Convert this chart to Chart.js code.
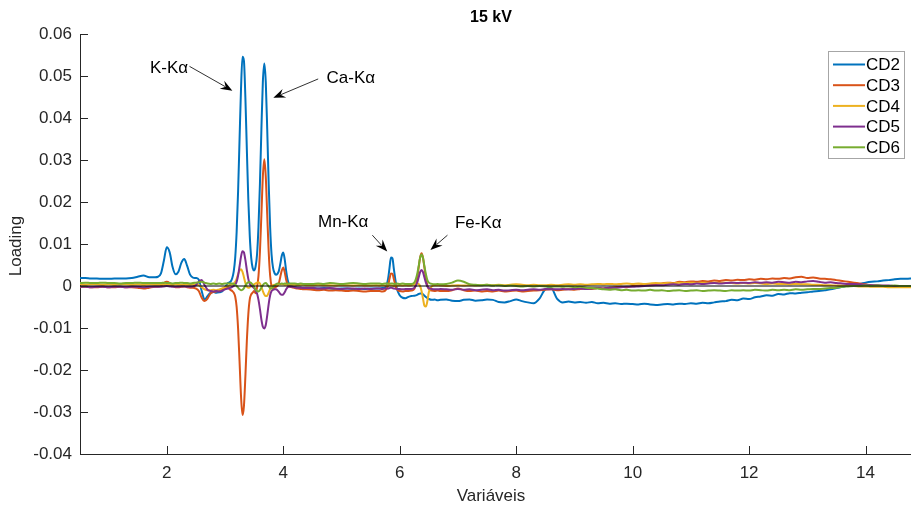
<!DOCTYPE html>
<html>
<head>
<meta charset="utf-8">
<title>15 kV</title>
<script src="https://cdn.jsdelivr.net/npm/chart.js@4.4.1/dist/chart.umd.min.js"></script>
<style>
  html, body { margin: 0; padding: 0; background: #ffffff; }
  #wrap { width: 911px; height: 511px; }
</style>
</head>
<body>
<div id="wrap"><canvas id="loadingChart" width="911" height="511"></canvas></div>
<script>
// Energy channels (keV) shared by all loading vectors
const energy = [
  0.5, 0.6, 0.7, 0.8, 0.9, 1.0, 1.1, 1.2, 1.3, 1.4, 1.5, 1.6, 1.7, 1.8,
  1.85, 1.9, 1.95, 2.0, 2.05, 2.1, 2.15, 2.2, 2.25, 2.3, 2.35, 2.4, 2.45, 2.5, 2.55, 2.6, 2.65, 2.7, 2.75, 2.8, 2.85, 2.9, 2.95, 3.0, 3.05, 3.1,
  3.125, 3.15, 3.175, 3.2, 3.225, 3.25, 3.275, 3.3, 3.325, 3.35, 3.375, 3.4, 3.425, 3.45, 3.475, 3.5, 3.525, 3.55, 3.575, 3.6,
  3.625, 3.65, 3.675, 3.7, 3.725, 3.75, 3.775, 3.8, 3.825, 3.85, 3.875, 3.9, 3.925, 3.95, 3.975, 4.0, 4.025, 4.05, 4.075, 4.1,
  4.15, 4.2, 4.25, 4.3, 4.35, 4.4,
  4.5, 4.6, 4.7, 4.8, 4.9, 5.0, 5.1, 5.2, 5.3, 5.4, 5.5, 5.6,
  5.65, 5.7, 5.75, 5.8, 5.825, 5.85, 5.875, 5.9, 5.95, 6.0, 6.05, 6.1, 6.15, 6.2,
  6.25, 6.3, 6.325, 6.35, 6.375, 6.4, 6.425, 6.45, 6.475, 6.5, 6.55, 6.6, 6.65, 6.7,
  6.8, 6.9, 7.0, 7.1, 7.2, 7.3, 7.4, 7.5, 7.6, 7.7, 7.8, 7.9, 8.0, 8.1, 8.2, 8.3, 8.4, 8.5, 8.6, 8.7,
  8.8, 8.9, 9.0, 9.1, 9.2, 9.3, 9.4, 9.5, 9.6, 9.7, 9.8, 9.9, 10.0, 10.1, 10.2, 10.3, 10.4, 10.5, 10.6, 10.7,
  10.8, 10.9, 11.0, 11.1, 11.2, 11.3, 11.4, 11.5, 11.6, 11.7, 11.8, 11.9, 12.0, 12.1, 12.2, 12.3, 12.4, 12.5, 12.6, 12.7,
  12.8, 12.9, 13.0, 13.1, 13.2, 13.3, 13.4, 13.5, 13.6, 13.7, 13.8, 13.9, 14.0, 14.1, 14.2, 14.3, 14.4, 14.5, 14.6, 14.7, 14.8
];

const cd2 = [
  0.0019, 0.0019, 0.0018, 0.0018, 0.0017, 0.0017, 0.0018, 0.0018, 0.0018, 0.0019, 0.0022, 0.0025, 0.0021, 0.0021,
  0.0022, 0.0030, 0.0060, 0.0092, 0.0080, 0.0045, 0.0028, 0.0034, 0.0055, 0.0064, 0.0048, 0.0027, 0.0020, 0.0019, 0.0015, -0.0012,
  -0.0032, -0.0024, -0.0016, -0.0014, -0.0016, -0.0015, -0.0013, -0.0004, 0.0007, 0.0011,
  0.0019, 0.0035, 0.0067, 0.0129, 0.0226, 0.0350, 0.0470, 0.0546, 0.0536, 0.0448, 0.0325, 0.0207, 0.0120, 0.0067, 0.0043, 0.0037, 0.0046, 0.0075, 0.0141, 0.0244,
  0.0373, 0.0486, 0.0530, 0.0486, 0.0373, 0.0244, 0.0140, 0.0074, 0.0043, 0.0031, 0.0027, 0.0029, 0.0036, 0.0053, 0.0072, 0.0080, 0.0064, 0.0036, 0.0015, 0.0005,
  -0.0001, -0.0003, -0.0004, -0.0004, -0.0005, -0.0005,
  -0.0005, -0.0006, -0.0005, -0.0006, -0.0007, -0.0006, -0.0006, -0.0007, -0.0006, -0.0007, -0.0006, -0.0006,
  -0.0006, -0.0005, -0.0004, 0.0017, 0.0043, 0.0068, 0.0066, 0.0040, -0.0005, -0.0022, -0.0028, -0.0029, -0.0026, -0.0024,
  -0.0023, -0.0021, -0.0019, -0.0018, -0.0018, -0.0020, -0.0023, -0.0026, -0.0029, -0.0031, -0.0033, -0.0032, -0.0034, -0.0033,
  -0.0032, -0.0035, -0.0036, -0.0033, -0.0032, -0.0035, -0.0034, -0.0032, -0.0033, -0.0038, -0.0039, -0.0036, -0.0032, -0.0036, -0.0039, -0.0041, -0.0030, -0.0008, -0.0005, -0.0030,
  -0.0039, -0.0037, -0.0039, -0.0038, -0.0040, -0.0038, -0.0041, -0.0040, -0.0042, -0.0041, -0.0043, -0.0042, -0.0043, -0.0044, -0.0042, -0.0044, -0.0045, -0.0044, -0.0043, -0.0044,
  -0.0042, -0.0043, -0.0041, -0.0042, -0.0040, -0.0041, -0.0039, -0.0037, -0.0036, -0.0033, -0.0034, -0.0030, -0.0031, -0.0027, -0.0025, -0.0022, -0.0023, -0.0019, -0.0020, -0.0017,
  -0.0018, -0.0016, -0.0015, -0.0013, -0.0012, -0.0010, -0.0008, -0.0005, -0.0002, 0.0001, 0.0003, 0.0005, 0.0008, 0.0010, 0.0011, 0.0013, 0.0014, 0.0016, 0.0017, 0.0017, 0.0018
];

const cd3 = [
  -0.0003, -0.0002, -0.0003, -0.0003, -0.0002, -0.0003, -0.0003, -0.0002, -0.0003, -0.0003, -0.0004, -0.0006, -0.0004, -0.0002,
  -0.0002, 0.0000, 0.0007, 0.0010, 0.0007, 0.0000, -0.0003, -0.0003, -0.0002, -0.0001, -0.0003, -0.0004, -0.0004, -0.0006, -0.0012, -0.0028,
  -0.0036, -0.0030, -0.0018, -0.0014, -0.0013, -0.0010, -0.0007, -0.0005, -0.0005, -0.0010,
  -0.0012, -0.0016, -0.0025, -0.0050, -0.0102, -0.0180, -0.0262, -0.0307, -0.0286, -0.0215, -0.0131, -0.0068, -0.0032, -0.0020, -0.0016, -0.0012, -0.0017, -0.0004, 0.0024, 0.0082,
  0.0170, 0.0261, 0.0302, 0.0261, 0.0170, 0.0082, 0.0025, -0.0001, -0.0006, -0.0004, -0.0002, 0.0000, 0.0007, 0.0022, 0.0037, 0.0044, 0.0033, 0.0015, 0.0004, -0.0001,
  -0.0003, -0.0005, -0.0006, -0.0007, -0.0008, -0.0008,
  -0.0009, -0.0010, -0.0009, -0.0011, -0.0010, -0.0011, -0.0012, -0.0011, -0.0012, -0.0013, -0.0012, -0.0012,
  -0.0012, -0.0013, -0.0011, 0.0001, 0.0017, 0.0030, 0.0029, 0.0016, -0.0008, -0.0012, -0.0013, -0.0012, -0.0012, -0.0011,
  -0.0007, 0.0018, 0.0043, 0.0067, 0.0078, 0.0067, 0.0043, 0.0018, 0.0001, -0.0007, -0.0011, -0.0012, -0.0011, -0.0012,
  -0.0012, -0.0010, -0.0006, -0.0010, -0.0012, -0.0011, -0.0013, -0.0012, -0.0013, -0.0011, -0.0013, -0.0012, -0.0011, -0.0013, -0.0012, -0.0011, -0.0010, -0.0009, -0.0008, -0.0010,
  -0.0009, -0.0008, -0.0009, -0.0007, -0.0006, -0.0007, -0.0005, -0.0006, -0.0004, -0.0003, -0.0002, -0.0003, 0.0000, 0.0001, 0.0003, 0.0002, 0.0005, 0.0006, 0.0008, 0.0007,
  0.0010, 0.0009, 0.0011, 0.0010, 0.0012, 0.0011, 0.0013, 0.0012, 0.0014, 0.0013, 0.0015, 0.0014, 0.0016, 0.0015, 0.0017, 0.0016, 0.0018, 0.0017, 0.0019, 0.0018,
  0.0021, 0.0022, 0.0019, 0.0020, 0.0018, 0.0017, 0.0016, 0.0014, 0.0012, 0.0010, 0.0008, 0.0006, 0.0004, 0.0002, 0.0001, 0.0000, -0.0001, -0.0001, -0.0002, -0.0002, -0.0002
];

const cd4 = [
  0.0004, 0.0003, 0.0004, 0.0004, 0.0003, 0.0004, 0.0003, 0.0004, 0.0004, 0.0003, 0.0004, 0.0003, 0.0004, 0.0003,
  0.0003, 0.0004, 0.0003, 0.0004, 0.0003, 0.0003, 0.0004, 0.0003, 0.0003, 0.0004, 0.0003, 0.0003, 0.0004, 0.0003, 0.0002, -0.0003,
  -0.0008, -0.0010, -0.0010, -0.0009, -0.0010, -0.0008, -0.0006, -0.0003, 0.0000, 0.0003,
  0.0004, 0.0006, 0.0010, 0.0017, 0.0028, 0.0037, 0.0040, 0.0034, 0.0021, 0.0007, -0.0002, -0.0004, -0.0003, 0.0000, 0.0002, 0.0004, 0.0006, 0.0008, 0.0009, 0.0006,
  -0.0002, -0.0012, -0.0020, -0.0024, -0.0023, -0.0016, -0.0007, -0.0001, 0.0002, 0.0003, 0.0003, 0.0003, 0.0004, 0.0004, 0.0004, 0.0004, 0.0003, 0.0003, 0.0003, 0.0003,
  0.0003, 0.0003, 0.0002, 0.0003, 0.0003, 0.0002,
  0.0002, 0.0003, 0.0002, 0.0002, 0.0001, 0.0002, 0.0002, 0.0001, 0.0002, 0.0001, 0.0001, 0.0002,
  0.0001, 0.0002, 0.0001, 0.0001, 0.0002, 0.0002, 0.0001, 0.0000, 0.0001, 0.0002, 0.0001, 0.0002, 0.0001, 0.0002,
  0.0004, 0.0006, 0.0005, 0.0000, -0.0012, -0.0030, -0.0047, -0.0049, -0.0036, -0.0015, -0.0001, 0.0002, 0.0002, 0.0001,
  0.0000, 0.0001, 0.0002, 0.0001, 0.0002, 0.0001, 0.0002, 0.0003, 0.0002, 0.0003, 0.0002, 0.0003, 0.0004, 0.0003, 0.0002, 0.0003, 0.0002, 0.0002, 0.0003, 0.0002,
  0.0003, 0.0004, 0.0003, 0.0004, 0.0003, 0.0004, 0.0005, 0.0004, 0.0005, 0.0004, 0.0005, 0.0006, 0.0005, 0.0006, 0.0005, 0.0006, 0.0007, 0.0006, 0.0007, 0.0006,
  0.0008, 0.0007, 0.0008, 0.0007, 0.0008, 0.0007, 0.0008, 0.0007, 0.0008, 0.0007, 0.0006, 0.0007, 0.0006, 0.0007, 0.0006, 0.0005, 0.0006, 0.0005, 0.0005, 0.0004,
  0.0005, 0.0004, 0.0004, 0.0003, 0.0003, 0.0002, 0.0002, 0.0001, 0.0001, 0.0000, 0.0000, -0.0001, -0.0001, -0.0002, -0.0002, -0.0002, -0.0003, -0.0003, -0.0003, -0.0003, -0.0003
];

const cd5 = [
  -0.0002, -0.0002, -0.0003, -0.0002, -0.0002, -0.0003, -0.0002, -0.0002, -0.0003, -0.0002, -0.0002, -0.0003, -0.0002, -0.0002,
  -0.0002, -0.0002, -0.0001, 0.0000, -0.0001, -0.0002, -0.0002, -0.0002, -0.0001, -0.0001, -0.0002, -0.0002, -0.0001, 0.0002, 0.0010, 0.0014,
  0.0002, -0.0009, -0.0012, -0.0013, -0.0012, -0.0013, -0.0011, -0.0008, -0.0006, -0.0004,
  -0.0002, 0.0000, 0.0003, 0.0010, 0.0025, 0.0047, 0.0070, 0.0083, 0.0080, 0.0062, 0.0038, 0.0017, 0.0005, 0.0001, -0.0002, -0.0005, -0.0010, -0.0018, -0.0033, -0.0055,
  -0.0080, -0.0097, -0.0101, -0.0093, -0.0070, -0.0043, -0.0022, -0.0012, -0.0009, -0.0008, -0.0008, -0.0010, -0.0014, -0.0019, -0.0021, -0.0020, -0.0015, -0.0008, -0.0003, -0.0001,
  -0.0002, -0.0003, -0.0004, -0.0004, -0.0005, -0.0005,
  -0.0005, -0.0006, -0.0006, -0.0005, -0.0006, -0.0007, -0.0006, -0.0006, -0.0007, -0.0006, -0.0007, -0.0006,
  -0.0006, -0.0007, -0.0006, -0.0006, -0.0005, -0.0004, -0.0005, -0.0006, -0.0007, -0.0007, -0.0008, -0.0007, -0.0007, -0.0007,
  -0.0005, 0.0008, 0.0020, 0.0033, 0.0038, 0.0033, 0.0020, 0.0008, -0.0001, -0.0005, -0.0007, -0.0008, -0.0008, -0.0007,
  -0.0008, -0.0009, -0.0007, -0.0009, -0.0008, -0.0010, -0.0009, -0.0008, -0.0010, -0.0009, -0.0011, -0.0010, -0.0009, -0.0010, -0.0009, -0.0008, -0.0009, -0.0007, -0.0008, -0.0008,
  -0.0007, -0.0008, -0.0007, -0.0006, -0.0007, -0.0006, -0.0005, -0.0006, -0.0004, -0.0004, -0.0003, -0.0002, -0.0002, -0.0001, 0.0000, 0.0001, 0.0002, 0.0002, 0.0003, 0.0004,
  0.0003, 0.0005, 0.0004, 0.0006, 0.0005, 0.0006, 0.0007, 0.0006, 0.0007, 0.0008, 0.0007, 0.0008, 0.0007, 0.0009, 0.0008, 0.0009, 0.0008, 0.0010, 0.0009, 0.0008,
  0.0010, 0.0009, 0.0011, 0.0012, 0.0010, 0.0008, 0.0009, 0.0007, 0.0006, 0.0005, 0.0005, 0.0004, 0.0003, 0.0002, 0.0002, 0.0001, 0.0001, 0.0000, 0.0000, 0.0000, 0.0000
];

const cd6 = [
  0.0007, 0.0008, 0.0007, 0.0007, 0.0008, 0.0007, 0.0007, 0.0006, 0.0007, 0.0007, 0.0008, 0.0007, 0.0007, 0.0007,
  0.0007, 0.0007, 0.0008, 0.0007, 0.0007, 0.0006, 0.0007, 0.0007, 0.0008, 0.0007, 0.0007, 0.0006, 0.0007, 0.0008, 0.0009, 0.0010,
  0.0008, 0.0006, 0.0005, 0.0006, 0.0005, 0.0006, 0.0005, 0.0006, 0.0006, 0.0006,
  0.0006, 0.0005, 0.0003, 0.0000, -0.0004, -0.0008, -0.0010, -0.0009, -0.0005, 0.0001, 0.0006, 0.0009, 0.0009, 0.0007, 0.0003, -0.0002, -0.0008, -0.0012, -0.0013, -0.0010,
  -0.0004, 0.0002, 0.0006, 0.0007, 0.0004, -0.0001, -0.0005, -0.0006, -0.0003, 0.0001, 0.0004, 0.0006, 0.0006, 0.0005, 0.0006, 0.0005, 0.0006, 0.0006, 0.0005, 0.0006,
  0.0006, 0.0006, 0.0005, 0.0006, 0.0005, 0.0005,
  0.0005, 0.0006, 0.0005, 0.0007, 0.0006, 0.0005, 0.0006, 0.0007, 0.0006, 0.0005, 0.0006, 0.0006,
  0.0006, 0.0005, 0.0006, 0.0006, 0.0005, 0.0006, 0.0006, 0.0005, 0.0006, 0.0005, 0.0006, 0.0005, 0.0005, 0.0005,
  0.0008, 0.0028, 0.0047, 0.0067, 0.0075, 0.0067, 0.0047, 0.0028, 0.0014, 0.0008, 0.0005, 0.0004, 0.0005, 0.0004,
  0.0005, 0.0008, 0.0013, 0.0010, 0.0004, 0.0003, 0.0002, 0.0003, 0.0001, 0.0002, 0.0000, 0.0001, 0.0000, -0.0001, 0.0000, -0.0001, 0.0000, -0.0001, -0.0002, -0.0001,
  -0.0002, -0.0001, -0.0003, -0.0002, -0.0004, -0.0005, -0.0006, -0.0008, -0.0009, -0.0008, -0.0010, -0.0009, -0.0011, -0.0010, -0.0011, -0.0009, -0.0011, -0.0010, -0.0012, -0.0011,
  -0.0010, -0.0012, -0.0011, -0.0010, -0.0012, -0.0011, -0.0010, -0.0011, -0.0012, -0.0010, -0.0011, -0.0010, -0.0011, -0.0009, -0.0010, -0.0011, -0.0009, -0.0010, -0.0009, -0.0010,
  -0.0008, -0.0009, -0.0008, -0.0007, -0.0007, -0.0006, -0.0005, -0.0004, -0.0002, -0.0001, 0.0000, 0.0000, 0.0001, 0.0000, 0.0001, 0.0000, 0.0000, 0.0001, 0.0000, 0.0000, 0.0000
];

const seriesNames = ['CD2', 'CD3', 'CD4', 'CD5', 'CD6'];
const seriesValues = [cd2, cd3, cd4, cd5, cd6];
const seriesColors = ['#0072BD', '#D95319', '#EDB120', '#7E2F8E', '#77AC30'];

const xTickValues = [2, 4, 6, 8, 10, 12, 14];

const chartTitle = '15 kV';
const xTitle = 'Variáveis';
const yTitle = 'Loading';

// Peak labels with arrows, placed in data coordinates
const peakLabels = [
  { text: 'K-Kα',  tx: 2.04, ty: 0.0518, fx: 2.39, fy: 0.0523, ax: 3.127, ay: 0.0465 },
  { text: 'Ca-Kα', tx: 5.16, ty: 0.0495, fx: 4.60, fy: 0.0493, ax: 3.83,  ay: 0.0448 },
  { text: 'Mn-Kα', tx: 5.03, ty: 0.0151, fx: 5.53, fy: 0.0121, ax: 5.786, ay: 0.0082 },
  { text: 'Fe-Kα', tx: 7.35, ty: 0.0150, fx: 6.82, fy: 0.0121, ax: 6.528, ay: 0.0086 }
];

const FONT = "'Liberation Sans', Arial, Helvetica, sans-serif";
const AXIS_COLOR = '#262626';

function drawArrow(ctx, x0, y0, x1, y1) {
  const ang = Math.atan2(y1 - y0, x1 - x0);
  const len = 12, half = 4.6;
  const bx = x1 - len * Math.cos(ang), by = y1 - len * Math.sin(ang);
  ctx.beginPath();
  ctx.moveTo(x0, y0);
  ctx.lineTo(bx + 0.3 * len * Math.cos(ang), by + 0.3 * len * Math.sin(ang));
  ctx.stroke();
  ctx.beginPath();
  ctx.moveTo(x1, y1);
  ctx.lineTo(bx + half * Math.sin(ang), by - half * Math.cos(ang));
  ctx.lineTo(bx + 0.35 * len * Math.cos(ang), by + 0.35 * len * Math.sin(ang));
  ctx.lineTo(bx - half * Math.sin(ang), by + half * Math.cos(ang));
  ctx.closePath();
  ctx.fill();
}

// Inward ticks, titles, boxed legend and peak annotations
const decorations = {
  id: 'decorations',
  afterDraw(chart) {
    const { ctx, chartArea } = chart;
    const xs = chart.scales.x, ys = chart.scales.y;
    ctx.save();

    ctx.strokeStyle = AXIS_COLOR;
    ctx.lineWidth = 1;
    ctx.beginPath();
    xs.ticks.forEach(t => {
      const px = Math.round(xs.getPixelForValue(t.value)) + 0.5;
      ctx.moveTo(px, chartArea.bottom);
      ctx.lineTo(px, chartArea.bottom - 8);
    });
    ys.ticks.forEach(t => {
      const py = Math.round(ys.getPixelForValue(t.value)) + 0.5;
      ctx.moveTo(chartArea.left, py);
      ctx.lineTo(chartArea.left + 8, py);
    });
    ctx.stroke();

    // title and axis titles
    ctx.fillStyle = '#000000';
    ctx.textAlign = 'center';
    ctx.textBaseline = 'middle';
    ctx.font = 'bold 16px ' + FONT;
    ctx.fillText(chartTitle, 491, 18);

    ctx.fillStyle = AXIS_COLOR;
    ctx.font = '17px ' + FONT;
    ctx.fillText(xTitle, 491, 496);
    ctx.save();
    ctx.translate(16, 246);
    ctx.rotate(-Math.PI / 2);
    ctx.fillText(yTitle, 0, 0);
    ctx.restore();

    // peak annotations
    ctx.fillStyle = '#000000';
    ctx.strokeStyle = '#1a1a1a';
    ctx.lineWidth = 0.9;
    ctx.font = '17px ' + FONT;
    peakLabels.forEach(p => {
      ctx.fillText(p.text, xs.getPixelForValue(p.tx), ys.getPixelForValue(p.ty));
      drawArrow(ctx,
        xs.getPixelForValue(p.fx), ys.getPixelForValue(p.fy),
        xs.getPixelForValue(p.ax), ys.getPixelForValue(p.ay));
    });

    // legend box
    const boxL = 828.5, boxT = 51.5, boxW = 76, boxH = 107;
    ctx.fillStyle = '#ffffff';
    ctx.fillRect(boxL, boxT, boxW, boxH);
    ctx.strokeStyle = '#a6a6a6';
    ctx.lineWidth = 1;
    ctx.strokeRect(boxL, boxT, boxW, boxH);
    ctx.textAlign = 'left';
    ctx.font = '17px ' + FONT;
    seriesNames.forEach((name, i) => {
      const rowY = 64.5 + i * 20.7;
      ctx.strokeStyle = seriesColors[i];
      ctx.lineWidth = 2;
      ctx.beginPath();
      ctx.moveTo(833, rowY);
      ctx.lineTo(865, rowY);
      ctx.stroke();
      ctx.fillStyle = '#000000';
      ctx.fillText(name, 866, rowY + 1);
    });

    ctx.restore();
  }
};

const datasets = seriesNames.map((name, i) => ({
  label: name,
  data: energy.map((e, k) => ({ x: e, y: seriesValues[i][k] })),
  borderColor: seriesColors[i],
  borderWidth: 2,
  pointRadius: 0,
  fill: false,
  cubicInterpolationMode: 'monotone',
  order: seriesNames.length - i
}));

// zero reference line drawn above the loadings
datasets.push({
  label: 'zero',
  data: [{ x: energy[0], y: 0 }, { x: energy[energy.length - 1], y: 0 }],
  borderColor: '#000000',
  borderWidth: 1,
  pointRadius: 0,
  fill: false,
  order: 0
});

const ctx = document.getElementById('loadingChart').getContext('2d');
new Chart(ctx, {
  type: 'line',
  data: { datasets },
  options: {
    responsive: false,
    animation: false,
    devicePixelRatio: 1,
    layout: { padding: { top: 34, right: 0, left: 0, bottom: 0 } },
    plugins: {
      legend: { display: false },
      title: { display: false },
      tooltip: { enabled: false }
    },
    scales: {
      x: {
        type: 'linear',
        min: 0.51,
        max: 14.78,
        grid: { display: true, drawOnChartArea: false, drawTicks: false },
        border: { display: true, color: AXIS_COLOR, width: 1 },
        ticks: {
          color: AXIS_COLOR,
          font: { family: FONT, size: 17 },
          padding: 9,
          maxRotation: 0
        },
        afterBuildTicks: scale => {
          scale.ticks = xTickValues.map(v => ({ value: v }));
        },
        afterFit: scale => { scale.height = 57; }
      },
      y: {
        min: -0.04,
        max: 0.06,
        grid: { display: true, drawOnChartArea: false, drawTicks: false },
        border: { display: true, color: AXIS_COLOR, width: 1 },
        ticks: {
          stepSize: 0.01,
          color: AXIS_COLOR,
          font: { family: FONT, size: 17 },
          padding: 8,
          callback: v => Math.abs(v) < 1e-9 ? '0' : v.toFixed(2)
        },
        afterFit: scale => { scale.width = 80; }
      }
    }
  },
  plugins: [decorations]
});
</script>
</body>
</html>
